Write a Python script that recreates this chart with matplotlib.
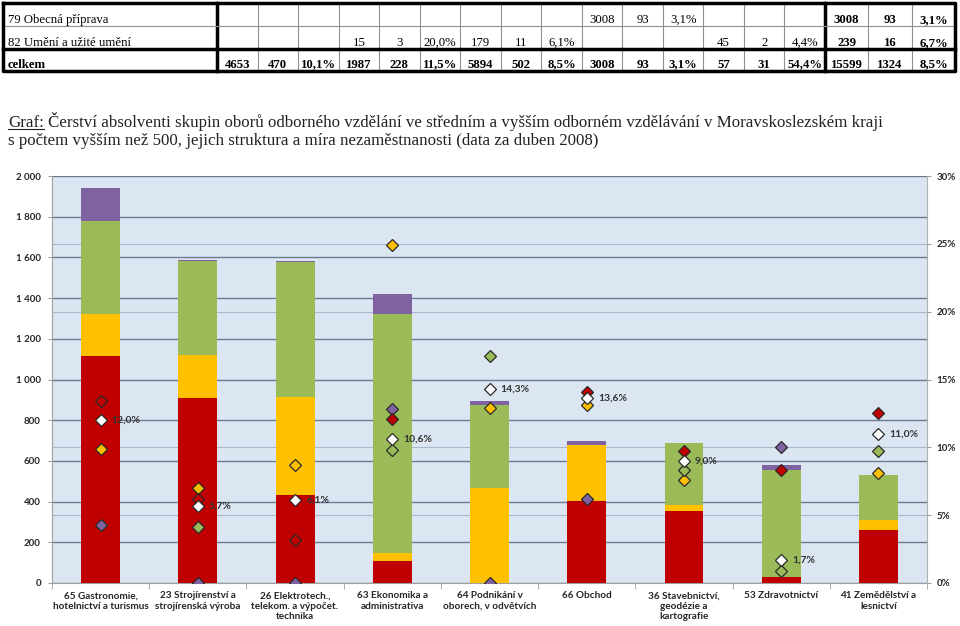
import numpy as np
import matplotlib
matplotlib.use("Agg")
import matplotlib.pyplot as plt
from matplotlib.ticker import FuncFormatter, MultipleLocator, FixedLocator

# --- data ---
categories = ["65 Gastronomie,\nhotelnictví a turismus",
              "23 Strojírenství a\nstrojírenská výroba",
              "26 Elektrotech.,\ntelekom. a výpočet.\ntechnika",
              "63 Ekonomika a\nadministrativa",
              "64 Podnikání v\noborech, v odvětvích",
              "66 Obchod",
              "36 Stavebnictví,\ngeodézie a\nkartografie",
              "53 Zdravotnictví",
              "41 Zemědělství a\nlesnictví"]

red_count = [1117, 907, 432, 110, 0, 403, 355, 31, 259]
orange_count = [206, 213, 480, 39, 468, 277, 27, 0, 49]
green_count = [456, 462, 665, 1171, 407, 0, 304, 524, 224]
purple_count = [160, 7, 5, 102, 21, 18, 0, 23, 0]

nan = np.nan
red_pct = [13.4, 6.2, 3.2, 12.1, nan, 14.1, 9.7, 8.3, 12.5]
orange_pct = [9.9, 7.0, 8.7, 24.9, 12.9, 13.1, 7.6, nan, 8.1]
green_pct = [nan, 4.1, nan, 9.8, 16.7, nan, 8.3, 0.9, 9.7]
purple_pct = [4.3, 0.0, 0.0, 12.8, 0.0, 6.2, nan, 10.0, nan]
total_pct = [12.0, 5.7, 6.1, 10.6, 14.3, 13.6, 9.0, 1.7, 11.0]

table_labels = ["79 Obecná příprava", "82 Umění a užité umění", "celkem"]
table_cells = [
    ["", "", "", "", "", "", "", "", "", "3008", "93", "3,1%", "", "", "", "3008", "93", "3,1%"],
    ["", "", "", "15", "3", "20,0%", "179", "11", "6,1%", "", "", "", "45", "2", "4,4%", "239", "16", "6,7%"],
    ["4653", "470", "10,1%", "1987", "228", "11,5%", "5894", "502", "8,5%", "3008", "93", "3,1%",
     "57", "31", "54,4%", "15599", "1324", "8,5%"],
]

title_lines = ["Čerství absolventi skupin oborů odborného vzdělání ve středním a vyšším odborném vzdělávání v Moravskoslezském kraji",
               "s počtem vyšším než 500, jejich struktura a míra nezaměstnanosti (data za duben 2008)"]

RED = "#C00000"
ORANGE = "#FFC000"
GREEN = "#9BBB59"
PURPLE = "#7E62A1"

fig = plt.figure(figsize=(9.6, 6.26), dpi=100)

# page layer in pixel coordinates (table fragment + title)
page = fig.add_axes([0, 0, 1, 1])
page.set_xlim(0, 960)
page.set_ylim(626, 0)
page.axis("off")

col_edges = np.concatenate([[3], np.linspace(217, 825, 16), [868, 912, 955]])
row_edges = [3, 26, 49, 71]
serif = "Liberation Serif"

for xe in col_edges[1:-1]:
    thick = xe in (217, 825)
    page.plot([xe, xe], [row_edges[0], row_edges[-1]], color="black" if thick else "#909090",
              lw=2.5 if thick else 0.8)
page.plot([3, 955], [26, 26], color="#909090", lw=0.8)
page.plot([3, 955], [49, 49], color="black", lw=2.5)
page.plot([3, 955, 955, 3, 3], [3, 3, 71, 71, 3], color="black", lw=2.5)

row_base = [23, 46, 67.5]
for r, (lab, cells) in enumerate(zip(table_labels, table_cells)):
    page.text(8, row_base[r], lab, family=serif, fontsize=9.2, va="baseline",
              fontweight="bold" if r == 2 else "normal")
    for c, val in enumerate(cells):
        if not val:
            continue
        xc = (col_edges[c + 1] + col_edges[c + 2]) / 2
        page.text(xc, row_base[r], val, family=serif, fontsize=9.2, ha="center", va="baseline",
                  fontweight="bold" if (r == 2 or c >= 15) else "normal")

tsize = 12.2
graf = page.text(8, 127, "Graf:", family=serif, fontsize=tsize, va="baseline", color="#222222")
fig.canvas.draw()
bb = graf.get_window_extent().transformed(page.transData.inverted())
page.plot([bb.x0, bb.x1], [129, 129], color="#222222", lw=0.8)
page.text(bb.x1 + 4, 127, title_lines[0], family=serif, fontsize=tsize, va="baseline", color="#222222")
page.text(8, 145, title_lines[1], family=serif, fontsize=tsize, va="baseline", color="#222222")

# --- chart ---
ax = fig.add_axes([52 / 960, 1 - 583 / 626, (927 - 52) / 960, (583 - 176) / 626])
ax.set_facecolor("#DCE6F2")
x = np.arange(len(categories))
w = 0.4
bottom = np.zeros(len(categories))
for vals, col in [(red_count, RED), (orange_count, ORANGE), (green_count, GREEN), (purple_count, PURPLE)]:
    ax.bar(x, vals, w, bottom=bottom, color=col, zorder=3)
    bottom += np.array(vals)

ax.set_xlim(-0.5, len(categories) - 0.5)
ax.set_ylim(0, 2000)
ax.yaxis.set_major_locator(MultipleLocator(200))
ax.yaxis.set_major_formatter(FuncFormatter(lambda v, p: f"{int(v):,}".replace(",", " ")))
ax.grid(axis="y", color="#6A7B90", lw=1.0, zorder=1)
for p in range(5, 30, 5):
    ax.axhline(p / 30 * 2000, color="#A9B8CA", lw=0.8, zorder=1)

ax.set_xticks(x)
ax.set_xticklabels(categories, family="Lato", fontweight="bold", fontsize=7.2, color="#262626")
ax.xaxis.set_minor_locator(FixedLocator(np.arange(-0.5, len(categories), 1)))
ax.tick_params(axis="x", which="major", length=0, pad=6)
ax.tick_params(axis="x", which="minor", length=4, color="#A0A0A0")
ax.tick_params(axis="y", length=3, color="#A0A0A0", labelsize=7, pad=5)
for lab in ax.get_yticklabels():
    lab.set_fontweight("bold")
    lab.set_family("Lato")
    lab.set_color("#262626")
for s in ["top", "right"]:
    ax.spines[s].set_visible(False)
for s in ["left", "bottom"]:
    ax.spines[s].set_color("#A0A0A0")

ax2 = ax.twinx()
ax2.set_ylim(0, 30)
ax2.yaxis.set_major_locator(MultipleLocator(5))
ax2.yaxis.set_major_formatter(FuncFormatter(lambda v, p: f"{int(v)}%"))
ax2.tick_params(axis="y", length=3, color="#A0A0A0", labelsize=7, pad=4)
for lab in ax2.get_yticklabels():
    lab.set_fontweight("bold")
    lab.set_family("Lato")
    lab.set_color("#262626")
for s in ["top", "left", "bottom"]:
    ax2.spines[s].set_visible(False)
ax2.spines["right"].set_color("#B0B0B0")

for vals, col in [(orange_pct, ORANGE), (green_pct, GREEN), (purple_pct, PURPLE),
                  (red_pct, RED), (total_pct, "white")]:
    ax2.plot(x, vals, ls="none", marker="D", ms=6.5, mfc=col, mec="#2A2A2A", mew=0.9, zorder=5)

for i, v in enumerate(total_pct):
    ax2.annotate(f"{v:.1f}".replace(".", ",") + "%", (i, v), xytext=(8, 0),
                 textcoords="offset points", va="center", fontsize=7.5,
                 family="Lato", fontweight="bold", color="#333333")

fig.savefig("out.png", dpi=100)
